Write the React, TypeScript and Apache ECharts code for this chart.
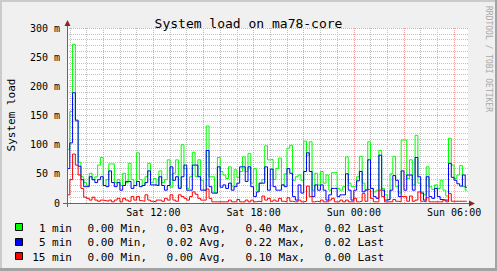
import { useEffect, useRef } from 'react';
import * as echarts from 'echarts';

// Time window: Sat 06:50 -> Sun 06:50, minutes counted from Sat 00:00
const START_MIN = 410;
const SPAN_MIN = 1440;
const STEP_MIN = 10;

// values in milli-load (the "m" unit on the axis)
const load1 = [
  92, 157, 272, 140, 70, 45, 35, 30, 51, 40,
  45, 65, 78, 30, 40, 67, 67, 35, 40, 30,
  51, 35, 68, 40, 30, 86, 40, 30, 45, 68,
  35, 42, 30, 55, 35, 40, 74, 27, 51, 74,
  27, 100, 59, 25, 45, 87, 45, 74, 39, 22,
  132, 45, 45, 17, 78, 54, 48, 42, 62, 29,
  57, 44, 54, 79, 54, 85, 34, 59, 22, 34,
  40, 98, 74, 75, 40, 59, 77, 31, 50, 94,
  99, 39, 45, 48, 39, 106, 82, 105, 22, 51,
  31, 54, 34, 48, 22, 52, 52, 25, 22, 28,
  79, 34, 28, 28, 45, 80, 34, 23, 105, 25,
  19, 22, 90, 25, 14, 6, 50, 80, 28, 17,
  108, 108, 42, 74, 31, 116, 34, 19, 14, 62,
  28, 23, 31, 25, 39, 22, 12, 111, 65, 42,
  48, 64, 28, 22,
];
const load5 = [
  59, 103, 189, 142, 63, 40, 28, 28, 45, 40,
  35, 40, 45, 30, 28, 55, 35, 28, 35, 22,
  30, 37, 37, 25, 30, 37, 28, 30, 35, 55,
  31, 31, 30, 45, 30, 22, 30, 62, 39, 45,
  25, 45, 65, 22, 22, 65, 65, 45, 22, 22,
  90, 28, 17, 17, 62, 27, 31, 25, 34, 22,
  28, 34, 62, 62, 37, 62, 28, 11, 19, 34,
  34, 62, 22, 58, 28, 22, 22, 31, 28, 59,
  51, 11, 5, 31, 17, 54, 86, 54, 11, 31,
  22, 31, 22, 5, 14, 25, 25, 11, 14, 14,
  50, 22, 5, 22, 38, 54, 19, 22, 74, 25,
  11, 8, 82, 22, 5, 6, 22, 47, 39, 11,
  55, 22, 48, 48, 22, 78, 45, 17, 5, 45,
  11, 8, 25, 11, 6, 5, 5, 68, 44, 39,
  33, 29, 48, 27,
];
const load15 = [
  14, 40, 84, 65, 48, 25, 10, 8, 5, 10,
  5, 3, 5, 4, 3, 5, 2, 5, 8, 2,
  8, 5, 3, 11, 5, 11, 4, 3, 14, 5,
  3, 2, 5, 5, 3, 8, 5, 14, 5, 3,
  14, 11, 8, 5, 11, 19, 15, 8, 5, 5,
  24, 8, 2, 2, 2, 2, 2, 2, 5, 2,
  2, 6, 2, 2, 5, 2, 5, 2, 3, 2,
  12, 5, 8, 3, 5, 3, 8, 3, 2, 9,
  3, 2, 2, 5, 2, 3, 29, 11, 2, 3,
  2, 5, 2, 2, 5, 8, 2, 2, 5, 2,
  5, 2, 2, 8, 2, 3, 16, 3, 23, 8,
  2, 2, 22, 11, 2, 2, 2, 6, 3, 2,
  11, 11, 3, 12, 3, 5, 19, 3, 2, 9,
  2, 2, 2, 2, 2, 5, 2, 16, 3, 3,
  3, 3, 3, 3,
];

const seriesNames = ['1 min', '5 min', '15 min'];
const seriesColors = ['#00ff00', '#0000ff', '#ff0000'];
const statMin = ['0.00', '0.00', '0.00'];
const statAvg = ['0.03', '0.02', '0.00'];
const statMax = ['0.40', '0.22', '0.10'];
const statLast = ['0.02', '0.02', '0.00'];

const TITLE = 'System load on ma78-core';
const Y_NAME = 'System load';
const WATERMARK = 'RRDTOOL / TOBI OETIKER';

const W = 497;
const H = 271;
const GRID = { left: 67, top: 28, right: 29, bottom: 68 };
const MONO = '"DejaVu Sans Mono", monospace';

const pad = (n: number) => (n < 10 ? '0' + n : '' + n);
const catLabel = (i: number) => {
  const m = START_MIN + i;
  const day = m < 1440 ? 'Sat' : 'Sun';
  const mm = m % 1440;
  return `${day} ${pad(Math.floor(mm / 60))}:${pad(mm % 60)}`;
};

export default function App() {
  const ref = useRef<HTMLDivElement>(null);
  useEffect(() => {
    document.body.style.margin = '0';
    if (!ref.current) return;
    const chart = echarts.init(ref.current, null, { renderer: 'svg' });
    const cats = Array.from({ length: SPAN_MIN + 1 }, (_, i) => catLabel(i));
    const toData = (arr: number[]) => {
      const d: [number, number][] = arr.map((v, k) => [k * STEP_MIN, v]);
      d.push([arr.length * STEP_MIN - 4, arr[arr.length - 1]]);
      return d;
    };
    const x0 = GRID.left;
    const y0 = H - GRID.bottom;
    const x1 = W - GRID.right;
    const y1 = GRID.top;
    const axisColor = '#666666';
    const arrowColor = '#8f2424';

    const graphics: any[] = [
      { type: 'rect', shape: { x: 0, y: 0, width: W, height: 2 }, style: { fill: '#cbcbcb' }, silent: true },
      { type: 'rect', shape: { x: 0, y: 0, width: 2, height: H }, style: { fill: '#cbcbcb' }, silent: true },
      { type: 'rect', shape: { x: 0, y: H - 3, width: W, height: 3 }, style: { fill: '#a3a3a3' }, silent: true },
      { type: 'rect', shape: { x: W - 2, y: 0, width: 2, height: H }, style: { fill: '#a3a3a3' }, silent: true },
      { type: 'line', shape: { x1: x0 - 4, y1: y0 + 0.5, x2: x1 + 2, y2: y0 + 0.5 }, style: { stroke: axisColor, lineWidth: 1 }, z: 50 },
      { type: 'line', shape: { x1: x0 + 0.5, y1: y0 + 4, x2: x0 + 0.5, y2: y1 - 4 }, style: { stroke: axisColor, lineWidth: 1 }, z: 50 },
      { type: 'polygon', shape: { points: [[x0 - 2.5, y1 - 2], [x0 + 3.5, y1 - 2], [x0 + 0.5, y1 - 8]] }, style: { fill: arrowColor }, z: 51 },
      { type: 'polygon', shape: { points: [[x1 + 1, y0 - 2.5], [x1 + 1, y0 + 3.5], [x1 + 7, y0 + 0.5]] }, style: { fill: arrowColor }, z: 51 },
      {
        type: 'text', x: 11, y: 115, rotation: Math.PI / 2,
        style: { text: Y_NAME, fontFamily: MONO, fontSize: 11, fill: '#000', align: 'center', verticalAlign: 'middle' },
      },
      {
        type: 'text', x: 488, y: 59, rotation: -Math.PI / 2,
        style: { text: WATERMARK, fontFamily: MONO, fontSize: 8, fill: '#a8a8a8', align: 'center', verticalAlign: 'middle' },
      },
    ];

    seriesNames.forEach((name, r) => {
      const boxY = 223 + r * 14.5;
      const ty = 228 + r * 14.5;
      graphics.push(
        { type: 'rect', shape: { x: 15.5, y: Math.round(boxY) + 0.5, width: 7, height: 7 }, style: { fill: seriesColors[r], stroke: '#000', lineWidth: 1 } },
        { type: 'text', x: 72, y: ty, style: { text: name, fontFamily: MONO, fontSize: 11, fill: '#000', align: 'right', verticalAlign: 'middle' } },
        { type: 'text', x: 87.5, y: ty, style: { text: `${statMin[r]} Min,`, fontFamily: MONO, fontSize: 11, fill: '#000', align: 'left', verticalAlign: 'middle' } },
        { type: 'text', x: 166.5, y: ty, style: { text: `${statAvg[r]} Avg,`, fontFamily: MONO, fontSize: 11, fill: '#000', align: 'left', verticalAlign: 'middle' } },
        { type: 'text', x: 245.5, y: ty, style: { text: `${statMax[r]} Max,`, fontFamily: MONO, fontSize: 11, fill: '#000', align: 'left', verticalAlign: 'middle' } },
        { type: 'text', x: 324.5, y: ty, style: { text: `${statLast[r]} Last`, fontFamily: MONO, fontSize: 11, fill: '#000', align: 'left', verticalAlign: 'middle' } },
      );
    });

    const minorGrid = { color: '#c2c2c2', width: 1, type: [1, 1] as any };
    const majorGrid = { color: '#f0a0a0', width: 1, type: [1, 1] as any };
    const hiddenBits = { axisLine: { show: false }, axisTick: { show: false }, axisLabel: { show: false } };

    chart.setOption({
      animation: false,
      backgroundColor: '#f0f0f0',
      title: {
        text: TITLE, left: 'center', top: 12,
        textStyle: { fontFamily: MONO, fontSize: 13, fontWeight: 'normal', color: '#000' },
      },
      grid: { ...GRID, show: true, backgroundColor: '#ffffff', borderWidth: 0, containLabel: false },
      xAxis: [
        {
          type: 'category', data: cats, boundaryGap: false, position: 'bottom',
          axisLine: { show: false }, axisTick: { show: false },
          axisLabel: {
            interval: (i: number) => (START_MIN + i) % 360 === 0,
            fontFamily: MONO, fontSize: 10, color: '#000', margin: 4,
          },
          splitLine: { show: false },
        },
        {
          type: 'category', data: cats, boundaryGap: false, position: 'bottom', ...hiddenBits,
          splitLine: {
            show: true,
            interval: (i: number) => (START_MIN + i) % 60 === 0 && (START_MIN + i) % 180 !== 0,
            lineStyle: minorGrid,
          },
        },
        {
          type: 'category', data: cats, boundaryGap: false, position: 'bottom', ...hiddenBits,
          splitLine: {
            show: true,
            interval: (i: number) => (START_MIN + i) % 180 === 0,
            lineStyle: majorGrid,
          },
        },
      ],
      yAxis: {
        type: 'value', min: 0, max: 300, interval: 50,
        axisLine: { show: false }, axisTick: { show: false },
        axisLabel: {
          formatter: (v: number) => (v === 0 ? '0' : `${v} m`),
          fontFamily: MONO, fontSize: 10, color: '#000', margin: 7,
        },
        splitLine: { show: true, lineStyle: majorGrid },
        minorTick: { show: false, splitNumber: 5 },
        minorSplitLine: { show: true, lineStyle: minorGrid },
      },
      series: [load1, load5, load15].map((arr, s) => ({
        name: seriesNames[s],
        type: 'line',
        step: 'end',
        data: toData(arr),
        xAxisIndex: 0,
        yAxisIndex: 0,
        symbol: 'none',
        showSymbol: false,
        lineStyle: { color: seriesColors[s], width: 1 },
        itemStyle: { color: seriesColors[s] },
        z: 10 + s,
      })),
      graphic: graphics,
    });
    return () => chart.dispose();
  }, []);
  return <div ref={ref} style={{ width: W, height: H, position: 'absolute', left: 0, top: 0 }} />;
}
